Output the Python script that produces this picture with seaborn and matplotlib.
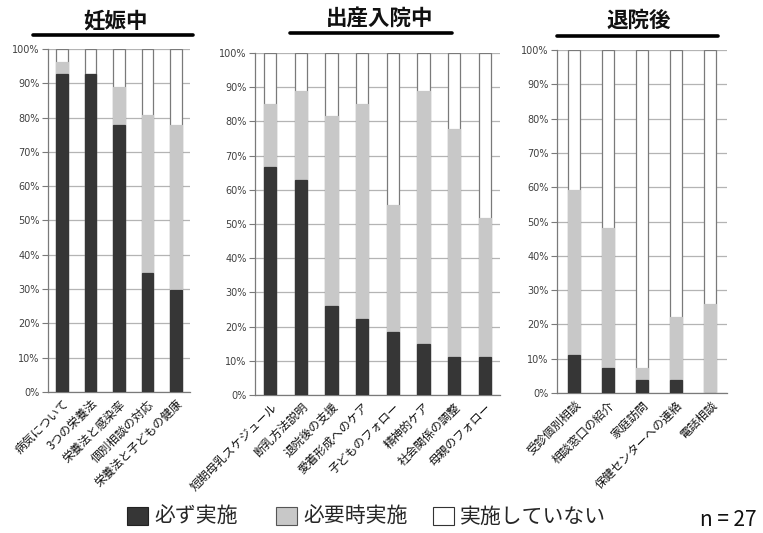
import matplotlib
matplotlib.use("Agg")
import matplotlib.pyplot as plt
import seaborn as sns
import pandas as pd
import numpy as np
from matplotlib.patches import Patch
from matplotlib.lines import Line2D

# ---- data (percent) ----
titles = ["妊娠中", "出産入院中", "退院後"]

cats1 = ["病気について", "3つの栄養法", "栄養法と感染率", "個別相談の対応", "栄養法と子どもの健康"]
always1 = [92.6, 92.6, 77.8, 34.6, 29.6]
asneeded1 = [3.7, 0.0, 11.1, 46.2, 48.1]

cats2 = ["短期母乳スケジュール", "断乳方法説明", "退院後の支援", "愛着形成へのケア",
         "子どものフォロー", "精神的ケア", "社会関係の調整", "母親のフォロー"]
always2 = [66.7, 63.0, 25.9, 22.2, 18.5, 14.8, 11.1, 11.1]
asneeded2 = [18.5, 25.9, 55.6, 63.0, 37.1, 74.1, 66.7, 40.8]

cats3 = ["受診個別相談", "相談窓口の紹介", "家庭訪問", "保健センターへの連絡", "電話相談"]
always3 = [11.1, 7.4, 3.7, 3.7, 0.0]
asneeded3 = [48.2, 40.7, 3.7, 18.5, 25.9]

legend_labels = ["必ず実施", "必要時実施", "実施していない"]
n_label = "n = 27"
yticks = list(range(0, 101, 10))

# ---- style ----
sns.set_theme(style="white")
plt.rcParams["font.family"] = ["Noto Sans CJK JP", "DejaVu Sans"]

DARK = "#363636"
GRAY = "#c8c8c8"
WHITE = "#ffffff"
EDGE = "#7a7a7a"
GRID = "#b4b4b4"

W, H = 763, 533
fig = plt.figure(figsize=(W / 100, H / 100), dpi=100)

def px_axes(left, right, top, bottom):
    return fig.add_axes([left / W, (H - bottom) / H, (right - left) / W, (bottom - top) / H])

panels = [
    (cats1, always1, asneeded1, (48, 190, 49, 392), 0.41, (115, 21), (33, 193, 35)),
    (cats2, always2, asneeded2, (255, 500, 53, 395), 0.40, (380, 18), (290, 452, 33)),
    (cats3, always3, asneeded3, (557, 727, 50, 393), 0.37, (639, 20), (557, 718, 36)),
]

for i, (cats, alw, asn, box, bw, tpos, uline) in enumerate(panels):
    ax = px_axes(*box)
    df = pd.DataFrame({
        "cat": cats,
        "always": alw,
        "upto": [a + b for a, b in zip(alw, asn)],
        "total": [100.0] * len(cats),
    })
    ax.set_axisbelow(True)
    ax.yaxis.grid(True, color=GRID, lw=0.9)
    sns.barplot(data=df, x="cat", y="total", color=WHITE, edgecolor=EDGE, linewidth=0.9,
                width=bw, saturation=1, ax=ax, zorder=2)
    sns.barplot(data=df, x="cat", y="upto", color=GRAY, edgecolor=GRAY, linewidth=0.9,
                width=bw, saturation=1, ax=ax, zorder=3)
    sns.barplot(data=df, x="cat", y="always", color=DARK, edgecolor=DARK, linewidth=0.9,
                width=bw, saturation=1, ax=ax, zorder=4)
    ax.set_xlim(-0.5, len(cats) - 0.5)
    ax.set_ylim(0, 100)
    ax.set_yticks(yticks)
    ax.set_yticklabels([f"{t}%" for t in yticks], fontsize=7, color="#404040",
                       family=["DejaVu Sans"])
    ax.set_xlabel("")
    ax.set_ylabel("")
    ax.set_xticks(range(len(cats)))
    ax.set_xticklabels(cats, rotation=45, ha="right", rotation_mode="anchor",
                       fontsize=8.5, color="#111111")
    ax.set_xticks(np.arange(-0.5, len(cats), 1.0), minor=True)
    ax.tick_params(axis="x", which="major", length=0, pad=4)
    ax.tick_params(axis="x", which="minor", length=4, color=EDGE, direction="out", width=0.8)
    ax.tick_params(axis="y", length=4, color=EDGE, direction="out", width=0.8, pad=2,
                   left=True)
    for s in ["top", "right"]:
        ax.spines[s].set_visible(False)
    for s in ["left", "bottom"]:
        ax.spines[s].set_color(EDGE)
        ax.spines[s].set_linewidth(0.9)

    # title with underline
    fig.text(tpos[0] / W, 1 - tpos[1] / H, titles[i], ha="center", va="center",
             fontsize=15.5, fontweight="bold", color="#111111")
    x0, x1, yy = uline
    fig.add_artist(Line2D([x0 / W, x1 / W], [1 - yy / H, 1 - yy / H],
                          color="black", lw=2.6, transform=fig.transFigure))

# legend (three entries, individually placed)
handles = [Patch(facecolor=DARK, edgecolor="#222222", lw=0.8),
           Patch(facecolor=GRAY, edgecolor="#555555", lw=0.8),
           Patch(facecolor=WHITE, edgecolor="#333333", lw=0.8)]
leg_x = [127, 276, 433]
for h, lab, lx in zip(handles, legend_labels, leg_x):
    lg = fig.legend([h], [lab], loc="center left", bbox_to_anchor=(lx / W, 1 - 517 / H),
                    frameon=False, fontsize=15, handlelength=1.0, handleheight=1.0,
                    handletextpad=0.3, borderpad=0, borderaxespad=0)
fig.text(728 / W, 1 - 520 / H, n_label, ha="center", va="center", fontsize=15,
         color="#111111")

fig.savefig("out.png", dpi=100)
